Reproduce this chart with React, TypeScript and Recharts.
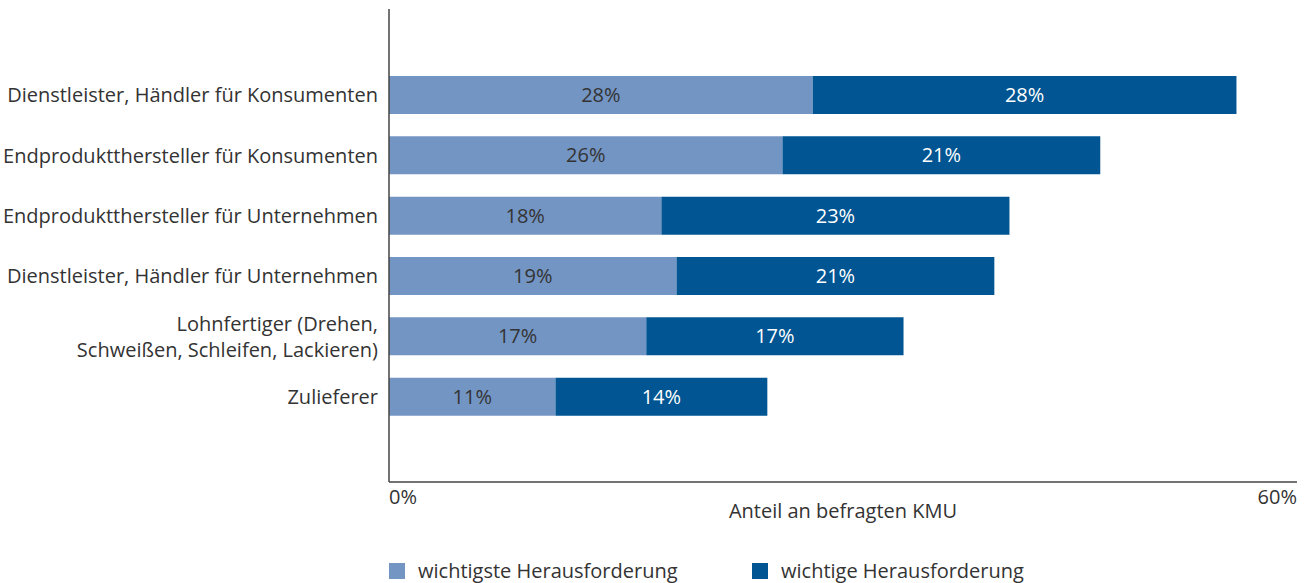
import { BarChart, Bar, XAxis, YAxis, LabelList, Legend, Label } from "recharts";

const categories = [
  "Dienstleister, Händler für Konsumenten",
  "Endproduktthersteller für Konsumenten",
  "Endproduktthersteller für Unternehmen",
  "Dienstleister, Händler für Unternehmen",
  "Lohnfertiger (Drehen,\nSchweißen, Schleifen, Lackieren)",
  "Zulieferer",
];
const wichtigste = [28, 26, 18, 19, 17, 11];
const wichtige = [28, 21, 23, 21, 17, 14];
const xTicks = [0, 60];

const data = categories.map((name, i) => ({
  name,
  a: wichtigste[i],
  b: wichtige[i],
}));

const FONT = "'Open Sans', sans-serif";
const FS = 20;
const TEXT = "#333333";
const LIGHT = "#7395c3";
const DARK = "#005592";

const CatTick = (props: any) => {
  const { x, y, payload } = props;
  const lines = String(payload.value).split("\n");
  const lh = 26;
  const y0 = y - ((lines.length - 1) * lh) / 2;
  return (
    <text x={x - 3} y={y0} textAnchor="end" fill={TEXT} fontSize={FS} fontFamily={FONT}>
      {lines.map((l, i) => (
        <tspan key={i} x={x - 3} y={y0 + i * lh} dy="0.35em">
          {l}
        </tspan>
      ))}
    </text>
  );
};

const PctTick = (props: any) => {
  const { x, y, payload } = props;
  const anchor = payload.value === 0 ? "start" : "end";
  return (
    <text x={x} y={y + 14} textAnchor={anchor} fill={TEXT} fontSize={FS} fontFamily={FONT}>
      {payload.value}%
    </text>
  );
};

const LegendContent = () => (
  <div style={{ position: "relative", height: 24, fontFamily: FONT, fontSize: FS, color: TEXT }}>
    <div style={{ position: "absolute", left: 389, top: 4, width: 16, height: 16, background: LIGHT }} />
    <div style={{ position: "absolute", left: 418, top: 0, lineHeight: "24px" }}>wichtigste Herausforderung</div>
    <div style={{ position: "absolute", left: 752, top: 4, width: 16, height: 16, background: DARK }} />
    <div style={{ position: "absolute", left: 781, top: 0, lineHeight: "24px" }}>wichtige Herausforderung</div>
  </div>
);

export default function App() {
  return (
    <div style={{ position: "absolute", left: 0, top: 0, width: 1314, height: 583, background: "#fff" }}>
      <BarChart
        width={1314}
        height={583}
        data={data}
        layout="vertical"
        margin={{ top: 9, right: 17, bottom: 0, left: 0 }}
        barSize={38}
      >
        <XAxis
          type="number"
          domain={[0, 60]}
          ticks={xTicks}
          tickLine={false}
          axisLine={{ stroke: "#444", strokeWidth: 1.5 }}
          tick={<PctTick />}
          height={77}
        >
          <Label value="Anteil an befragten KMU" position="insideBottom" offset={41} fill={TEXT} fontSize={FS} fontFamily={FONT} />
        </XAxis>
        <YAxis
          type="category"
          dataKey="name"
          width={389}
          tickLine={false}
          axisLine={{ stroke: "#444", strokeWidth: 1.5 }}
          tick={<CatTick />}
          padding={{ top: 56, bottom: 55 }}
          interval={0}
        />
        <Legend verticalAlign="bottom" content={<LegendContent />} wrapperStyle={{ left: 0, bottom: 0, width: 1314 }} />
        <Bar dataKey="a" stackId="s" fill={LIGHT} isAnimationActive={false} name="wichtigste Herausforderung">
          <LabelList dataKey="a" position="center" formatter={(v: any) => `${v}%`} fill={TEXT} fontSize={FS} fontFamily={FONT} />
        </Bar>
        <Bar dataKey="b" stackId="s" fill={DARK} isAnimationActive={false} name="wichtige Herausforderung">
          <LabelList dataKey="b" position="center" formatter={(v: any) => `${v}%`} fill="#ffffff" fontSize={FS} fontFamily={FONT} />
        </Bar>
      </BarChart>
    </div>
  );
}
